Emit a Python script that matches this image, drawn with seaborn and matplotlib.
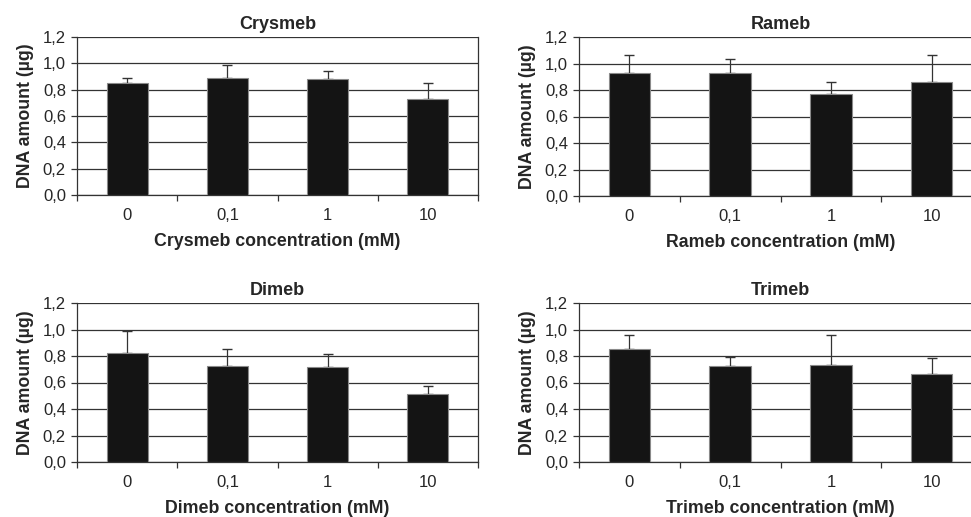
import matplotlib
matplotlib.use("Agg")
import matplotlib.pyplot as plt
import seaborn as sns
import pandas as pd
import numpy as np

categories = ["0", "0,1", "1", "10"]
names = ["Crysmeb", "Rameb", "Dimeb", "Trimeb"]
crysmeb_mean = [0.85, 0.89, 0.88, 0.73]
crysmeb_err = [0.035, 0.095, 0.06, 0.12]
rameb_mean = [0.925, 0.925, 0.77, 0.86]
rameb_err = [0.14, 0.11, 0.09, 0.205]
dimeb_mean = [0.82, 0.725, 0.717, 0.515]
dimeb_err = [0.17, 0.125, 0.095, 0.06]
trimeb_mean = [0.85, 0.725, 0.732, 0.665]
trimeb_err = [0.105, 0.065, 0.225, 0.12]
yticks = [0.0, 0.2, 0.4, 0.6, 0.8, 1.0, 1.2]
ytick_labels = ["0,0", "0,2", "0,4", "0,6", "0,8", "1,0", "1,2"]

sns.set_theme(style="white")
plt.rcParams["font.family"] = ["Liberation Sans", "DejaVu Sans"]

fig = plt.figure(figsize=(9.71, 5.17), dpi=100)
W, H = 971.0, 517.0
boxes = [
    (77, 37, 478, 195),
    (579, 37, 982, 196),
    (77, 303, 478, 462),
    (579, 303, 982, 462),
]
means = [crysmeb_mean, rameb_mean, dimeb_mean, trimeb_mean]
errs = [crysmeb_err, rameb_err, dimeb_err, trimeb_err]

for name, (l, t, r, b), m, e in zip(names, boxes, means, errs):
    ax = fig.add_axes([l / W, 1 - b / H, (r - l) / W, (b - t) / H])
    df = pd.DataFrame({"conc": categories, "dna": m})
    sns.barplot(data=df, x="conc", y="dna", ax=ax, color="#141414",
                saturation=1, width=0.41, edgecolor="#8a8a8a", linewidth=0.8,
                errorbar=None, zorder=3)
    ax.errorbar(np.arange(len(categories)), m, yerr=[np.zeros(len(e)), e],
                fmt="none", ecolor="#333333", elinewidth=0.9, capsize=3.5,
                capthick=1.0, zorder=2)
    ax.set_xlim(-0.5, 3.5)
    ax.set_ylim(0, 1.2)
    ax.set_yticks(yticks)
    ax.set_yticklabels(ytick_labels, fontsize=12)
    ax.yaxis.grid(True, color="#333333", linewidth=0.9, zorder=0)
    ax.set_axisbelow(True)
    ax.set_xticks([-0.5, 0.5, 1.5, 2.5, 3.5], minor=False)
    ax.set_xticklabels([])
    ax.set_xticks(range(4), minor=True)
    ax.set_xticklabels(categories, minor=True, fontsize=12)
    ax.tick_params(axis="x", which="major", direction="out", length=4,
                   width=0.9, color="#333333", bottom=True)
    ax.tick_params(axis="x", which="minor", length=0, pad=9.5, bottom=True)
    ax.tick_params(axis="y", direction="out", length=4, width=0.9,
                   color="#333333", left=True, pad=4)
    for side in ["left", "bottom", "right"]:
        ax.spines[side].set_visible(True)
        ax.spines[side].set_color("#333333")
        ax.spines[side].set_linewidth(0.9)
    ax.spines["top"].set_visible(False)
    ax.set_title(name, fontsize=13, fontweight="bold", pad=6)
    ax.set_xlabel(f"{name} concentration (mM)", fontsize=12.8,
                  fontweight="bold", labelpad=7)
    ax.set_ylabel("DNA amount (µg)", fontsize=12.8, fontweight="bold",
                  labelpad=6)

fig.savefig("out.png", dpi=100)
